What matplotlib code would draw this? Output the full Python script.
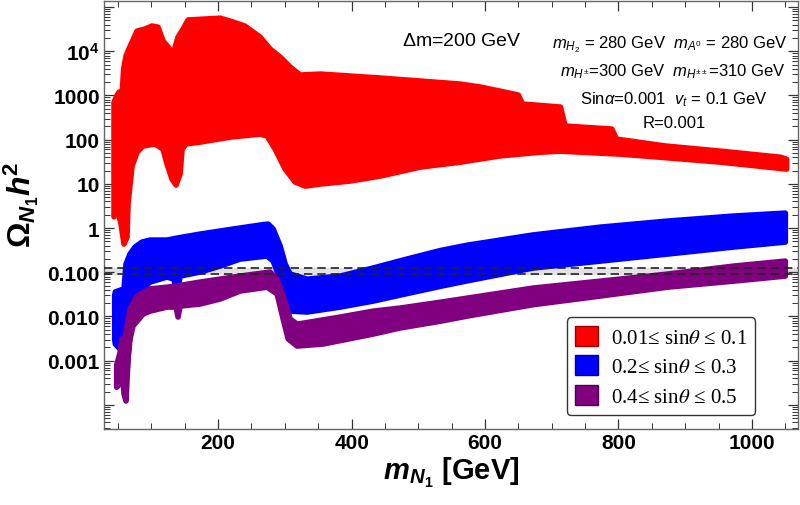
import numpy as np
import matplotlib
matplotlib.use("Agg")
import matplotlib.pyplot as plt
from matplotlib.patches import Patch
from matplotlib.font_manager import FontProperties
from matplotlib.ticker import LogLocator, MultipleLocator, NullFormatter

plt.rcParams['font.family'] = ['Liberation Sans', 'DejaVu Sans']
plt.rcParams['mathtext.fontset'] = 'custom'
plt.rcParams['mathtext.rm'] = 'Liberation Sans'
plt.rcParams['mathtext.it'] = 'Liberation Sans:italic'
plt.rcParams['mathtext.bf'] = 'Liberation Sans:bold'
plt.rcParams['mathtext.bfit'] = 'Liberation Sans:bold:italic'

# ---------------- data (envelopes of the scanned regions) ----------------
red_up_x = [44, 48.5, 51.5, 56, 58.5, 62, 66, 71, 78.5, 90.5, 101, 110, 117.5, 125, 132.5, 140, 147.5, 155, 180, 203,
            218, 240, 263, 278, 293, 308, 323, 353, 398, 443, 503, 563, 593, 623, 650, 656, 713, 720, 790, 797,
            870, 953, 1043, 1052]
red_up_y = [700, 1000, 1190, 1000, 4000, 7800, 11000, 16000, 28600, 31800, 37200, 35000, 17000, 12500, 8600, 20900,
            31800, 51000, 53600, 56000, 48200, 37200, 20900, 11200, 7400, 4400, 2900, 3050, 2750, 2480, 2120, 1810,
            1550, 1250, 1020, 640, 547, 203, 174, 103, 72, 55, 40, 36]
red_lo_x = [44, 50, 54.5, 59, 63.5, 65, 71, 78.5, 87.5, 105.5, 117.5, 123.5, 131, 137, 143, 146, 152, 173, 218, 263,
            273.5, 285.5, 300.5, 315.5, 330.5, 353, 398, 443, 503, 563, 623, 683, 713, 803, 863, 953, 1052]
red_lo_y = [1.8, 2.4, 1.23, 0.435, 0.625, 3.5, 25, 52, 72, 80, 61, 28, 12.8, 9.4, 16.7, 61, 80, 88, 114, 134,
            121, 61, 21.6, 11, 8.9, 9.9, 11.6, 15, 24, 31, 43, 52, 55, 47, 40, 31, 21.6]

blue_up_x = [45, 46, 59, 62, 68, 75.5, 86, 98, 123.5, 138.5, 173, 222.5, 263, 275, 282.5, 293, 300.5, 308, 333.5,
             383, 432.5, 483.5, 533, 573.5, 672.5, 773, 873.5, 972.5, 1050]
blue_up_y = [0.03, 0.036, 0.042, 0.153, 0.258, 0.372, 0.482, 0.535, 0.535, 0.594, 0.73, 0.95, 1.17, 1.23, 0.95,
             0.392, 0.153, 0.091, 0.070, 0.082, 0.125, 0.2, 0.31, 0.41, 0.7, 1.05, 1.44, 1.87, 2.18]
blue_lo_x = [45, 46, 53, 57.5, 60.5, 63.5, 66.5, 69.5, 74, 83, 98, 123.5, 134, 137, 140, 143, 173, 203, 233, 273.5,
             282.5, 293, 300.5, 308, 333.5, 383, 432.5, 483.5, 533, 573.5, 672.5, 773, 873.5, 972.5, 1050]
blue_lo_y = [0.003, 0.00238, 0.00183, 0.00203, 0.00109, 0.00055, 0.00238, 0.0052, 0.0147, 0.0376, 0.060, 0.078,
             0.070, 0.0376, 0.042, 0.082, 0.101, 0.138, 0.199, 0.233, 0.179, 0.070, 0.0248, 0.0132, 0.0126, 0.0163,
             0.0223, 0.033, 0.048, 0.064, 0.125, 0.179, 0.258, 0.372, 0.482]

purp_up_x = [48, 53, 56, 60.5, 63.5, 68, 78.5, 98, 123.5, 138.5, 173, 203, 233, 278, 288.5, 297.5, 308, 318.5, 383,
             432.5, 473, 533, 573.5, 672.5, 773, 873.5, 972.5, 1050]
purp_up_y = [0.0008, 0.0015, 0.0031, 0.0031, 0.0061, 0.0147, 0.029, 0.042, 0.046, 0.049, 0.060, 0.070, 0.082, 0.101,
             0.070, 0.029, 0.0087, 0.0067, 0.0097, 0.0132, 0.0155, 0.021, 0.026, 0.044, 0.063, 0.091, 0.138, 0.179]
purp_lo_x = [48, 53, 56, 59, 62, 65, 68, 72.5, 87.5, 98, 123.5, 137, 140, 143, 173, 203, 233, 273.5, 288.5, 297.5,
             305, 318.5, 357.5, 432.5, 473, 533, 573.5, 672.5, 773, 873.5, 972.5, 1050]
purp_lo_y = [0.00025, 0.0003, 0.00084, 0.000175, 0.000122, 0.00109, 0.0031, 0.0061, 0.0113, 0.0132, 0.0163, 0.0163,
             0.0097, 0.0172, 0.0191, 0.0248, 0.0376, 0.046, 0.0321, 0.0087, 0.0031, 0.00214, 0.00238, 0.0040, 0.0055,
             0.0078, 0.0102, 0.0185, 0.029, 0.046, 0.063, 0.082]

relic_band = [0.092, 0.124]

legend_labels = ['0.01\u2264 sin$\\theta$ \u2264 0.1',
                 '0.2\u2264 sin$\\theta$ \u2264 0.3',
                 '0.4\u2264 sin$\\theta$ \u2264 0.5']
series_colors = ['#ff0000', '#0000ff', '#800080']
edge_colors = ['#990000', '#000099', '#4d004d']

ytick_vals = [1e-4, 1e-3, 1e-2, 1e-1, 1, 10, 100, 1000, 1e4, 1e5]
ytick_labels = ['', '0.001', '0.010', '0.100', '1', '10', '100', '1000', r'$\mathbf{10^4}$', '']
xtick_vals = [200, 400, 600, 800, 1000]

# ---------------- figure ----------------
fig = plt.figure(figsize=(8, 5.06), dpi=100)
ax = fig.add_axes([0.13, 0.150, 0.8675, 0.846])
ax.set_yscale('log')


def band(xu, yu, xl, yl, color, z):
    xs = np.concatenate([np.asarray(xu, float), np.asarray(xl, float)[::-1]])
    ys = np.concatenate([np.asarray(yu, float), np.asarray(yl, float)[::-1]])
    ax.fill(xs, ys, facecolor=color, edgecolor=color, lw=4, joinstyle='round', zorder=z)


ax.axhspan(relic_band[0], relic_band[1], color='#e2e2e2', zorder=1)
band(red_up_x, red_up_y, red_lo_x, red_lo_y, series_colors[0], 2)
band(blue_up_x, blue_up_y, blue_lo_x, blue_lo_y, series_colors[1], 3)
band(purp_up_x, purp_up_y, purp_lo_x, purp_lo_y, series_colors[2], 4)
for v in relic_band:
    ax.axhline(v, color='#222222', lw=1.2, ls=(0, (5, 3)), zorder=6)

ax.set_xlim(29, 1069)
ax.set_ylim(2.83e-5, 1.37e5)

ax.set_yticks(ytick_vals)
ax.set_yticklabels(ytick_labels)
ax.yaxis.set_minor_locator(LogLocator(base=10, subs=np.arange(2, 10), numticks=20))
ax.yaxis.set_minor_formatter(NullFormatter())
ax.set_xticks(xtick_vals)
ax.set_xticklabels([str(v) for v in xtick_vals])
ax.xaxis.set_minor_locator(MultipleLocator(50))

for lab in ax.get_xticklabels() + ax.get_yticklabels():
    lab.set_fontweight('bold')
    lab.set_fontsize(15)

ax.tick_params(which='both', direction='in', top=True, right=True, color='#333333')
ax.tick_params(which='major', length=7, width=0.9)
ax.tick_params(axis='y', which='major', pad=3)
ax.tick_params(axis='x', which='major', pad=3)
ax.tick_params(which='minor', length=4, width=0.7)
for s in ax.spines.values():
    s.set_color('#666666')
    s.set_linewidth(1.0)

ax.set_xlabel(r'$\mathbfit{m}_{\mathbfit{N}_{\mathbf{1}}}$ [GeV]', fontsize=21, fontweight='bold')
ax.xaxis.set_label_coords(0.5, -0.099)
ax.xaxis.label.set_va('center')
ax.set_ylabel(r'$\mathbf{\Omega}_{\mathbfit{N}_{\mathbf{1}}}\mathbfit{h}^{\mathbf{2}}$', fontsize=23)
ax.yaxis.set_label_coords(-0.12, 0.526)
ax.yaxis.label.set_va('center')


def ftext(px, py, s, size):
    fig.text(px / 800, 1 - py / 506, s, ha='center', va='center', fontsize=size, color='black')


ftext(462, 41, r'$\Delta$m=200 GeV', 14)
ftext(670, 45, r'$m_{H_2}$ = 280 GeV  $m_{A^0}$ = 280 GeV', 12)
ftext(673, 72, r'$m_{H^{\pm}}$=300 GeV  $m_{H^{\pm\pm}}$=310 GeV', 12)
ftext(674, 100, r'Sin$\alpha$=0.001  $v_t$ = 0.1 GeV', 12)
ftext(674, 123, r'R=0.001', 12)

handles = [Patch(facecolor=c, edgecolor=e, label=l) for c, e, l in zip(series_colors, edge_colors, legend_labels)]
leg = ax.legend(handles=handles, loc='lower left', bbox_to_anchor=(0.667, 0.033),
                prop=FontProperties(family='Liberation Serif', size=15, math_fontfamily='stix'),
                frameon=True, fancybox=True, edgecolor='#333333', framealpha=1,
                handlelength=1.1, handleheight=1.1, borderpad=0.4, labelspacing=0.35,
                handletextpad=0.6, borderaxespad=0)
leg.get_frame().set_linewidth(1.0)
leg.set_zorder(10)

fig.savefig('out.png', dpi=100)
